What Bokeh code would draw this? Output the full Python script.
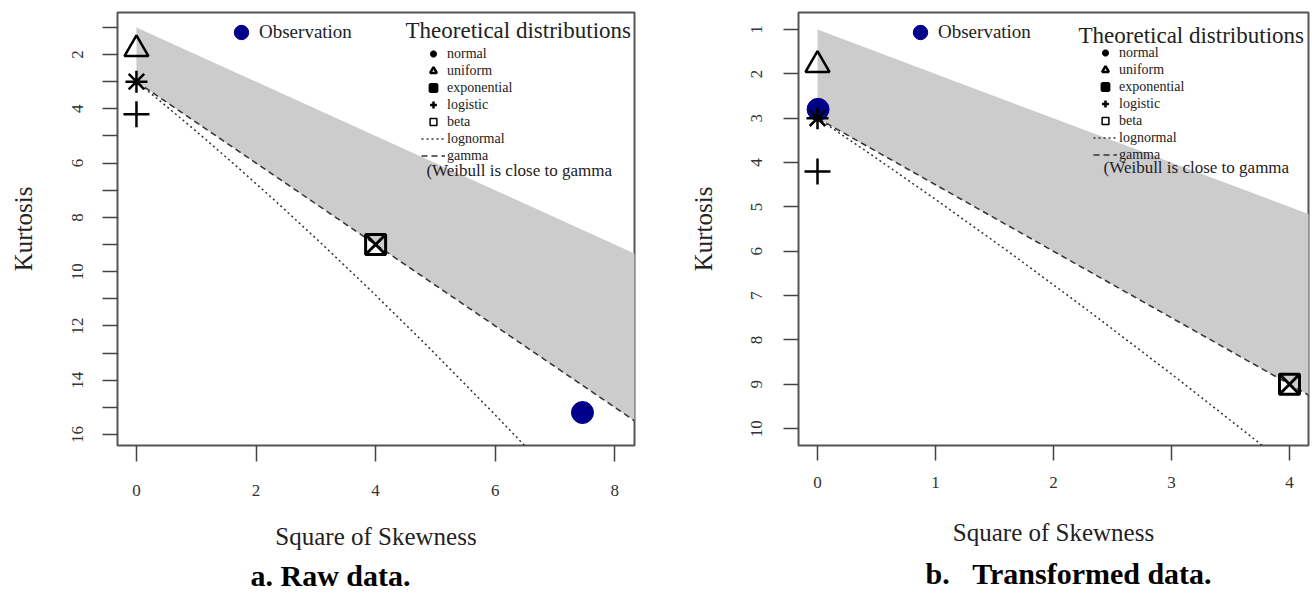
from bokeh.plotting import figure
from bokeh.models import Range1d, FixedTicker, Label, Legend, LegendItem, Title
from bokeh.layouts import row
from bokeh.embed import file_html
from bokeh.resources import INLINE

FONT = "Liberation Serif"

# ---------------- data (square of skewness, kurtosis) ----------------
dist_names = ["normal", "uniform", "exponential", "logistic"]
dist_skew2 = [0.0, 0.0, 4.0, 0.0]
dist_kurt = [3.0, 1.8, 9.0, 4.2]

obs_panels = ["raw", "transformed"]
obs_skew2 = [7.46, 0.005]
obs_kurt = [15.19, 2.8]

lognormal_skew2 = [0.0, 0.477, 1.014, 1.618, 2.298, 3.063, 3.926, 4.899, 5.997, 6.598, 7.236]
lognormal_kurt = [3.0, 3.861, 4.856, 6.008, 7.345, 8.899, 10.706, 12.812, 15.27, 16.65, 18.14]

gamma_skew2 = [0.0, 10.0]
gamma_kurt = [3.0, 18.0]

beta_skew2 = [0.0, 10.0]
beta_kurt_low = [1.0, 11.0]
beta_kurt_high = [3.0, 18.0]

captions = ["a. Raw data.", "b.\u00a0\u00a0\u00a0Transformed data."]
x_ticks = [[0, 2, 4, 6, 8], [0, 1, 2, 3, 4]]
y_ticks = [list(range(1, 17)), list(range(1, 11))]
y_tick_labels = [
    {t: (str(t) if t % 2 == 0 else "") for t in range(1, 17)},
    {t: str(t) for t in range(1, 11)},
]

legend_title = "Theoretical distributions"
weibull_note = "(Weibull is close to gamma"


def make_panel(i, cfg):
    p = figure(
        width=cfg["width"], height=596,
        x_range=Range1d(*cfg["xr"]), y_range=Range1d(*cfg["yr"]),
        output_backend="svg", toolbar_location=None,
        min_border_left=cfg["mbl"], min_border_right=cfg["mbr"],
        min_border_top=12, min_border_bottom=151,
        background_fill_color="white", border_fill_color="white",
    )
    p.grid.visible = False
    p.outline_line_color = "#555555"
    p.outline_line_width = 2

    # beta region
    p.varea(x=beta_skew2, y1=beta_kurt_low, y2=beta_kurt_high, fill_color="#cccccc")
    r_logn = p.line(lognormal_skew2, lognormal_kurt, line_dash="2 3", line_width=1.5, line_color="#333333")
    r_gam = p.line(gamma_skew2, gamma_kurt, line_dash="6 4", line_width=1.5, line_color="#333333")

    r_obs = p.scatter([obs_skew2[i]], [obs_kurt[i]], marker="circle", size=22,
                      fill_color="#00008b", line_color="#00008b")

    styles = {
        "normal": dict(marker="asterisk", size=22, line_width=2.5),
        "uniform": dict(marker="triangle", size=24, line_width=2.5),
        "exponential": dict(marker="square_x", size=20, line_width=3),
        "logistic": dict(marker="cross", size=26, line_width=2.5),
    }
    rends = {}
    for n, sx, ky in zip(dist_names, dist_skew2, dist_kurt):
        rends[n] = p.scatter([sx], [ky], fill_color=None, line_color="black", **styles[n])
    # beta has no single point: legend key only (renderer hidden in the plot)
    r_beta = p.scatter(x=beta_skew2[:1], y=beta_kurt_low[:1], marker="square", size=10,
                       fill_color=None, line_color="black", line_width=1.5, visible=False)

    # axes
    p.xaxis.ticker = FixedTicker(ticks=x_ticks[i])
    p.yaxis.ticker = FixedTicker(ticks=y_ticks[i])
    p.yaxis.major_label_overrides = y_tick_labels[i]
    p.yaxis.major_label_orientation = "vertical"
    for ax in (p.xaxis[0], p.yaxis[0]):
        ax.axis_line_color = None
        ax.major_tick_in = 0
        ax.minor_tick_in = 0
        ax.minor_tick_out = 0
        ax.major_tick_line_color = "#444444"
        ax.major_tick_line_width = 1.5
        ax.major_label_text_font = FONT
        ax.major_label_text_font_size = "17px"
        ax.major_label_text_color = "#333333"
        ax.axis_label_text_font = FONT
        ax.axis_label_text_font_size = "25px"
        ax.axis_label_text_font_style = "normal"
        ax.axis_label_text_color = "#222222"
    p.xaxis.major_tick_out = cfg["xtick"]
    p.yaxis.major_tick_out = 15
    p.xaxis.major_label_standoff = cfg["xls"]
    p.yaxis.major_label_standoff = cfg["yls"]
    p.xaxis.axis_label = "Square of Skewness"
    p.yaxis.axis_label = "Kurtosis"
    p.xaxis.axis_label_standoff = cfg["xals"]
    p.yaxis.axis_label_standoff = cfg["yals"]

    # legends
    obs_leg = Legend(
        items=[LegendItem(label="Observation", renderers=[r_obs])],
        location=cfg["obs_loc"], glyph_width=36, glyph_height=36, label_standoff=0,
        padding=0, margin=0, border_line_color=None, background_fill_alpha=0,
        label_text_font=FONT, label_text_font_size="19px", label_text_color="#222222",
    )
    items = [LegendItem(label=n, renderers=[rends[n]]) for n in dist_names]
    items.append(LegendItem(label="beta", renderers=[r_beta]))
    items.append(LegendItem(label="lognormal", renderers=[r_logn]))
    items.append(LegendItem(label="gamma", renderers=[r_gam]))
    th_leg = Legend(
        items=items, location=cfg["th_loc"], glyph_width=24, glyph_height=17,
        label_standoff=2, spacing=0, padding=0, margin=0, label_height=17,
        border_line_color=None, background_fill_alpha=0,
        inactive_fill_alpha=0,
        label_text_font=FONT, label_text_font_size="14px", label_text_color="#222222",
    )
    p.add_layout(obs_leg)
    p.add_layout(th_leg)

    p.add_layout(Label(x=cfg["title_xy"][0], y=cfg["title_xy"][1], text=legend_title,
                       text_font=FONT, text_font_size="23px", text_color="#222222",
                       text_baseline="middle", text_align="left"))
    p.add_layout(Label(x=cfg["weib_xy"][0], y=cfg["weib_xy"][1], text=weibull_note,
                       text_font=FONT, text_font_size="17px", text_color="#222222",
                       text_baseline="middle", text_align="left"))
    p.add_layout(Title(text=captions[i], align="left", offset=cfg["cap_off"], standoff=cfg["ts"],
                       text_font=FONT, text_font_size="30px", text_font_style="bold",
                       text_color="black"), "below")
    return p


cfg_a = dict(width=680, xr=(-0.317, 8.33), yr=(16.405, 0.451),
             mbl=117, mbr=46, xtick=16, xls=23, yls=19, xals=24, yals=33, ts=8,
             obs_loc=(106, 395), th_loc=(304, 281),
             title_xy=(4.50, 1.116), weib_xy=(4.85, 6.27), cap_off=133)
cfg_b = dict(width=630, xr=(-0.161, 4.161), yr=(10.38, 0.616),
             mbl=118, mbr=2, xtick=15, xls=16, yls=21, xals=28, yals=32, ts=12,
             obs_loc=(104, 395), th_loc=(295, 282),
             title_xy=(2.212, 1.135), weib_xy=(2.424, 4.11), cap_off=127)

p1 = make_panel(0, cfg_a)
p2 = make_panel(1, cfg_b)
layout = row(p1, p2)

open("out.html", "w").write(file_html(layout, INLINE))
